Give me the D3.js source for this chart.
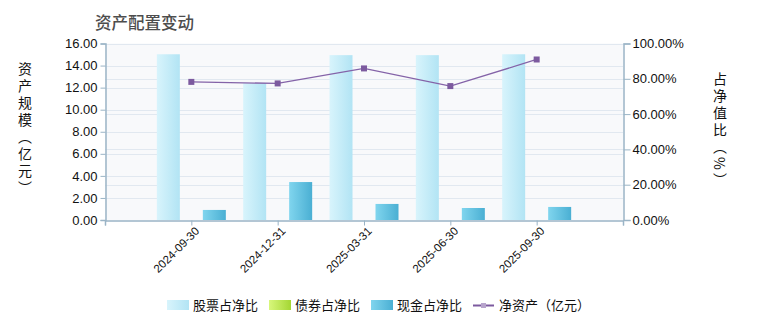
<!DOCTYPE html>
<html>
<head>
<meta charset="utf-8">
<script src="https://cdn.jsdelivr.net/npm/d3@7"></script>
<style>
body { margin: 0; background: #fff; }
svg text { font-family: Arial, "Liberation Sans", sans-serif; }
.cn { font-family: "Noto Sans CJK SC", sans-serif; }
.vt { writing-mode: vertical-rl; }
</style>
</head>
<body>
<svg width="760" height="330"></svg>
<script>
var dates = ["2024-09-30", "2024-12-31", "2025-03-31", "2025-06-30", "2025-09-30"];
var stockPct = [93.9, 77.5, 93.4, 93.4, 93.9];
var bondPct = [0, 0, 0, 0, 0];
var cashPct = [5.7, 21.5, 9.1, 6.8, 7.4];
var netAssets = [12.52, 12.38, 13.74, 12.14, 14.55];
var leftTicks = [0, 2, 4, 6, 8, 10, 12, 14, 16];
var rightTicks = [0, 20, 40, 60, 80, 100];

var svg = d3.select("svg");
var margin = {left: 105, right: 623, top: 43.5, bottom: 220};

var x = d3.scalePoint()
	.domain(dates)
	.range([margin.left, margin.right])
	.padding(1);

var yL = d3.scaleLinear().domain([0, 16]).range([margin.bottom, margin.top]);
var yR = d3.scaleLinear().domain([0, 100]).range([margin.bottom, margin.top]);

var defs = svg.append("defs");
function grad(id, c1, c2) {
	var g = defs.append("linearGradient").attr("id", id)
		.attr("x1", "0%").attr("x2", "100%").attr("y1", "0%").attr("y2", "0%");
	g.append("stop").attr("offset", "0%").attr("stop-color", c1);
	g.append("stop").attr("offset", "100%").attr("stop-color", c2);
}
grad("gStock", "#d8f4fc", "#b2e4f4");
grad("gBond", "#d8f77c", "#a4d633");
grad("gCash", "#80d5ee", "#4aafd3");

// plot background
svg.append("rect")
	.attr("x", margin.left).attr("y", margin.top)
	.attr("width", margin.right - margin.left)
	.attr("height", margin.bottom - margin.top)
	.attr("fill", "#f8f9fb");

// grid lines, both axes
var grid = svg.append("g");
grid.selectAll(".gl").data(leftTicks.slice(1)).enter().append("line")
	.attr("x1", margin.left).attr("x2", margin.right)
	.attr("y1", function(d) { return Math.round(yL(d)) + 0.5; })
	.attr("y2", function(d) { return Math.round(yL(d)) + 0.5; })
	.attr("stroke", "#e1e8f0");
grid.selectAll(".gr").data(rightTicks.slice(1)).enter().append("line")
	.attr("x1", margin.left).attr("x2", margin.right)
	.attr("y1", function(d) { return Math.round(yR(d)) + 0.5; })
	.attr("y2", function(d) { return Math.round(yR(d)) + 0.5; })
	.attr("stroke", "#e1e8f0");

// bars
var bw = 23;
var series = [
	{vals: stockPct, fill: "url(#gStock)", off: -1},
	{vals: bondPct, fill: "url(#gBond)", off: 0},
	{vals: cashPct, fill: "url(#gCash)", off: 1}
];
series.forEach(function(s) {
	svg.append("g").selectAll("rect")
		.data(s.vals).enter().append("rect")
		.attr("x", function(d, i) { return x(dates[i]) + s.off * bw - bw / 2; })
		.attr("y", function(d) { return yR(d); })
		.attr("width", bw)
		.attr("height", function(d) { return margin.bottom - yR(d); })
		.attr("fill", s.fill);
});

// net assets line
var line = d3.line()
	.x(function(d, i) { return x(dates[i]); })
	.y(function(d) { return yL(d); });
svg.append("path")
	.datum(netAssets)
	.attr("d", line)
	.attr("fill", "none")
	.attr("stroke", "#8463a8")
	.attr("stroke-width", 1.3);
svg.append("g").selectAll("rect")
	.data(netAssets).enter().append("rect")
	.attr("x", function(d, i) { return x(dates[i]) - 3; })
	.attr("y", function(d) { return yL(d) - 3; })
	.attr("width", 6).attr("height", 6)
	.attr("fill", "#7c5a9f");

// axes
var axisColor = "#9ab4c6";
var gl = svg.append("g")
	.attr("transform", "translate(" + (margin.left + 0.5) + ",0)")
	.call(d3.axisLeft(yL).tickValues(leftTicks).tickFormat(d3.format(".2f")).tickSize(5).tickPadding(3));
var gr = svg.append("g")
	.attr("transform", "translate(" + (margin.right + 0.5) + ",0)")
	.call(d3.axisRight(yR).tickValues(rightTicks).tickFormat(function(d) { return d3.format(".2f")(d) + "%"; }).tickSize(7).tickPadding(2));
var gx = svg.append("g")
	.attr("transform", "translate(0," + (margin.bottom + 0.5) + ")")
	.call(d3.axisBottom(x).tickSize(5).tickSizeOuter(5));
[gl, gr, gx].forEach(function(g) {
	g.select(".domain").attr("stroke", axisColor).attr("stroke-width", 1.5);
	g.selectAll(".tick line").attr("stroke", axisColor);
	g.selectAll("text").attr("fill", "#111").attr("font-size", 13)
		.attr("font-family", "Arial, 'Liberation Sans', sans-serif");
});
gx.selectAll("text")
	.attr("font-size", 11.5)
	.attr("text-anchor", "end")
	.attr("dx", "-0.2em").attr("dy", "0.5em")
	.attr("transform", "rotate(-45)");
// outer ticks at both ends of the x axis
gx.append("line").attr("x1", margin.left + 0.5).attr("x2", margin.left + 0.5).attr("y1", 0).attr("y2", 5).attr("stroke", axisColor);
gx.append("line").attr("x1", margin.right + 0.5).attr("x2", margin.right + 0.5).attr("y1", 0).attr("y2", 5).attr("stroke", axisColor);

// title
svg.append("text").attr("class", "cn")
	.attr("x", 95).attr("y", 29)
	.attr("font-size", 16.5).attr("font-weight", 500).attr("fill", "#4d4d4d")
	.text("资产配置变动");

// vertical axis titles
svg.append("text").attr("class", "cn vt")
	.attr("x", 25).attr("y", 62)
	.attr("font-size", 14).attr("letter-spacing", 3).attr("fill", "#111")
	.text("资产规模（亿元）");
svg.append("text").attr("class", "cn vt")
	.attr("x", 720).attr("y", 72)
	.attr("font-size", 14).attr("letter-spacing", 3).attr("fill", "#111")
	.text("占净值比（%）");

// legend
var legend = [
	{name: "股票占净比", fill: "url(#gStock)", x: 167},
	{name: "债券占净比", fill: "url(#gBond)", x: 269},
	{name: "现金占净比", fill: "url(#gCash)", x: 371}
];
var lg = svg.append("g");
legend.forEach(function(l) {
	lg.append("rect").attr("x", l.x).attr("y", 300).attr("width", 22).attr("height", 10).attr("fill", l.fill);
	lg.append("text").attr("class", "cn").attr("x", l.x + 26).attr("y", 310)
		.attr("font-size", 13).attr("fill", "#111").text(l.name);
});
lg.append("line").attr("x1", 473).attr("x2", 494).attr("y1", 305.5).attr("y2", 305.5)
	.attr("stroke", "#7c5a9f").attr("stroke-width", 2);
lg.append("rect").attr("x", 481).attr("y", 303).attr("width", 5).attr("height", 5).attr("fill", "#b7a4cc");
lg.append("text").attr("class", "cn").attr("x", 499).attr("y", 310)
	.attr("font-size", 13).attr("fill", "#111").text("净资产（亿元）");
</script>
</body>
</html>
